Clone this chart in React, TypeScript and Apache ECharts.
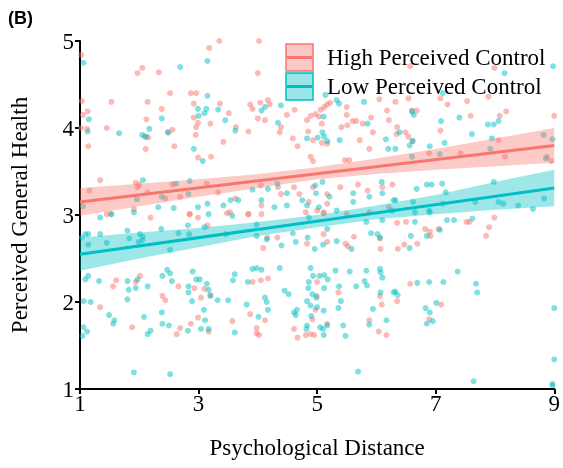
import React, { useEffect, useRef } from "react";
import * as echarts from "echarts";

// ---- Data ----
const xTicks = [1, 3, 5, 7, 9];
const yTicks = [1, 2, 3, 4, 5];
const seriesNames = ["High Perceived Control", "Low Perceived Control"];

// High perceived control: jittered observations [psychological distance, perceived health]
const highPoints: [number, number][] = [
  [1.02,4.84],[1.97,4.63],[2.05,4.69],[2.33,4.64],[3.18,4.92],[3.35,5.0],[1.53,4.30],[2.14,4.30],[2.52,4.40],[2.87,4.40],
  [2.96,4.40],[2.92,4.28],[2.38,4.22],[3.36,4.28],[1.03,4.31],[1.13,4.19],[1.05,4.15],[1.02,4.0],[1.12,3.99],[1.14,3.79],
  [1.45,4.0],[2.12,4.10],[2.10,3.90],[2.15,3.89],[2.11,3.76],[2.56,3.98],[2.48,3.95],[2.59,3.79],[2.92,4.12],[2.99,4.06],
  [2.96,4.01],[2.95,3.92],[2.99,3.66],[3.20,4.05],[3.21,3.67],[3.42,3.84],[3.51,4.17],
  [1.34,3.40],[1.16,3.28],[1.94,3.37],[1.97,3.32],[2.0,3.35],[2.14,3.26],[2.56,3.35],[2.69,3.21],[3.14,3.36],[3.33,3.26],
  [2.44,3.19],[1.45,3.01],[1.52,3.01],[1.91,3.07],[2.85,3.01],[3.53,3.03],
  [4.02,5.0],[4.0,4.63],[3.87,4.27],[3.91,4.22],[4.04,4.29],[4.17,4.32],[4.20,4.27],[3.63,4.01],[3.84,3.96],[4.0,4.11],
  [4.12,4.09],[4.39,4.01],[4.37,3.95],[4.49,4.15],[4.62,4.21],[4.83,4.09],[4.89,4.14],[4.97,4.16],[5.03,4.13],[5.06,4.21],
  [5.12,4.24],[5.17,4.27],[5.22,4.29],[5.08,4.05],[4.85,3.96],[5.50,4.15],[5.60,4.08],[5.66,4.08],[5.41,4.01],[5.51,4.03],
  [4.59,3.88],[4.67,3.79],[4.93,3.86],[5.08,3.83],[5.17,3.82],[4.89,3.67],[4.93,3.62],[5.47,3.63],[5.54,3.63],[5.72,3.86],
  [5.88,3.76],[5.94,3.95],[6.05,4.33],[6.18,4.20],[6.21,4.09],[5.91,4.12],[5.77,4.05],[5.50,4.24],
  [4.05,3.34],[4.34,3.32],[4.39,3.24],[4.61,3.32],[4.70,3.24],[4.93,3.32],[5.17,3.24],[5.39,3.32],[5.69,3.35],[5.85,3.28],
  [6.10,3.32],[6.27,3.35],[3.62,3.19],[3.84,3.01],[4.06,3.11],[4.86,3.15],[5.0,3.05],[5.17,3.13],[5.11,3.02],[5.88,3.03],
  [6.21,3.09],
  [6.57,4.71],[7.99,4.69],[6.32,4.30],[6.54,4.34],[6.68,4.20],[6.60,4.20],[7.20,4.27],[7.08,4.34],[7.53,4.31],[7.59,4.14],
  [7.89,4.36],[8.19,4.19],[8.08,4.14],[7.08,3.97],[6.35,4.01],[6.49,3.95],[6.34,3.93],[6.54,3.90],[6.61,3.85],[9.0,4.14],
  [8.06,3.86],[8.17,3.67],[8.88,3.67],[8.95,3.62],[7.42,3.71],[6.89,3.71],
  [2.19,2.97],[2.85,3.01],[2.99,2.97],[3.48,3.02],[3.15,2.88],[1.61,2.25],[1.56,2.18],[1.94,2.23],[2.01,2.30],[2.66,2.18],
  [2.93,2.16],[3.10,2.15],[3.20,2.08],[2.39,2.07],[2.44,2.02],[3.04,2.05],[1.34,1.94],[1.88,1.71],[2.63,1.63],[2.69,1.70],
  [2.87,1.75],[2.99,1.82],[3.17,1.66],[3.57,1.78],
  [3.84,3.01],[4.06,3.01],[4.81,3.03],[5.11,3.03],[5.50,3.01],[4.33,2.74],[4.83,2.67],[5.11,2.78],[5.17,2.69],[5.48,2.67],
  [5.52,2.64],[5.62,2.75],[6.06,2.73],[6.07,2.61],[4.09,2.62],[4.16,2.74],[3.91,2.23],[4.05,2.25],[4.17,2.27],[5.0,2.23],
  [4.99,2.07],[5.36,2.11],[4.97,1.91],[4.92,1.80],[5.17,1.75],[3.87,1.86],[4.12,1.79],[3.98,1.70],[3.98,1.64],[4.02,1.62],
  [4.61,1.69],[4.67,1.59],[4.81,1.62],[4.89,1.63],[4.95,1.62],[6.06,2.07],[6.09,1.97],[5.88,1.79],[6.04,1.66],[6.17,1.62],
  [6.35,2.91],[6.50,2.92],[6.36,2.61],[6.47,2.66],[6.69,2.67],[6.82,2.84],[6.90,2.81],[6.91,2.76],[7.05,2.84],[7.52,2.92],
  [7.57,2.92],[7.85,2.76],[7.90,2.86],[7.99,2.97],[6.57,2.21],[6.35,2.01],[6.89,1.80],[7.09,1.97],
];

// Low perceived control: jittered observations
const lowPoints: [number, number][] = [
  [1.06,4.75],[2.69,4.70],[3.15,4.77],[3.15,4.37],[2.99,4.22],[3.13,4.22],[3.00,4.14],[3.10,4.17],[3.33,4.21],[3.45,4.09],
  [1.15,4.10],[1.13,3.96],[1.66,3.94],[2.05,3.92],[2.11,3.90],[2.17,3.99],[2.38,4.11],[2.49,3.95],[2.92,3.76],[3.07,3.62],
  [2.06,3.40],[1.96,3.18],[2.38,3.21],[2.85,3.39],[2.83,3.24],[2.62,3.36],[1.05,3.10],[1.91,3.03],[2.32,3.09],[2.58,3.08],
  [2.99,3.09],[3.15,3.13],[3.17,3.01],[3.42,3.11],[3.54,3.17],
  [3.62,3.97],[4.06,4.20],[4.12,4.24],[4.34,4.06],[4.39,4.26],[4.83,3.88],[5.01,3.89],[5.11,4.13],[5.12,3.90],[5.17,3.85],
  [5.09,3.95],[5.33,4.32],[5.37,4.28],[5.38,3.86],[5.14,4.38],[5.79,4.30],[5.85,4.05],[6.16,3.87],[6.20,3.76],[3.91,3.29],
  [4.17,3.30],[4.33,3.36],[4.49,3.25],[4.97,3.34],[4.98,3.25],[5.09,3.38],[5.21,3.21],[5.61,3.25],[6.09,3.38],[6.10,3.25],
  [3.67,3.17],[4.06,3.17],[4.28,3.09],[4.49,3.11],[4.75,3.17],[4.83,3.11],[5.03,3.09],[5.33,3.05],[5.61,3.15],[5.88,3.21],
  [6.29,3.17],
  [8.98,4.71],[8.16,4.63],[7.12,4.40],[6.60,4.19],[6.63,4.15],[7.09,4.08],[7.40,4.12],[7.88,4.04],[7.98,4.04],[8.06,4.08],
  [6.32,3.76],[6.39,3.95],[6.56,3.80],[6.61,3.85],[6.90,3.79],[7.15,3.83],[7.61,3.93],[7.95,3.88],[8.82,3.92],[8.97,3.87],
  [6.60,3.67],[7.07,3.70],[7.92,3.76],[8.86,3.65],[6.68,3.30],[6.85,3.35],[6.93,3.35],[7.11,3.36],[7.17,3.26],[7.98,3.38],
  [6.32,3.17],[6.62,3.15],[6.89,3.05],[7.12,3.13],[7.67,3.15],[8.06,3.15],[8.14,3.13],[8.39,3.11],[8.64,3.07],[8.83,3.19],
  [1.34,2.97],[1.53,3.01],[1.09,2.78],[1.14,2.78],[1.34,2.78],[1.45,2.68],[1.80,2.82],[2.01,2.78],[2.06,2.75],[2.05,2.71],
  [2.37,2.84],[2.66,2.79],[2.82,2.88],[2.84,2.78],[3.10,2.86],[3.46,2.78],[1.14,2.66],[1.83,2.73],[1.99,2.69],[2.52,2.60],
  [1.03,2.74],
  [1.09,2.26],[1.14,2.30],[1.32,2.24],[1.80,2.24],[1.82,2.14],[1.94,2.16],[1.97,2.26],[2.14,2.18],[2.39,2.30],[2.47,2.37],
  [2.52,2.33],[2.55,2.24],[2.90,2.35],[2.96,2.26],[3.02,2.26],[2.83,2.18],[2.83,2.11],[2.89,2.01],[3.14,2.21],[3.17,2.14],
  [3.20,2.07],[3.32,2.02],[3.50,2.02],[1.06,2.01],[1.18,2.0],[1.80,2.03],[1.49,1.85],[1.58,1.79],[1.56,1.75],[2.08,1.83],
  [2.38,1.88],[2.39,1.75],[2.50,1.73],[2.19,1.67],[2.14,1.63],[2.82,1.67],[3.04,1.69],[3.09,1.91],[3.11,1.79],[3.17,1.69],
  [1.06,1.71],[1.12,1.66],[1.04,1.61],[1.91,1.19],[2.52,1.17],
  [3.57,2.99],[3.98,2.89],[3.98,2.76],[4.15,2.72],[4.40,2.65],[4.64,2.69],[4.84,2.74],[4.86,2.97],[5.17,2.84],[5.33,2.70],
  [5.10,2.66],[5.58,2.61],[5.91,2.79],[6.02,2.78],[6.06,2.74],[6.10,2.94],[5.83,2.92],[6.27,3.05],[4.96,2.61],[4.59,2.79],
  [3.61,2.32],[3.58,2.25],[3.91,2.38],[3.98,2.39],[4.06,2.37],[4.37,2.39],[3.83,2.23],[4.45,2.13],[4.52,2.09],[4.12,2.05],
  [4.15,2.0],[4.17,1.91],[3.81,1.97],[4.01,1.83],[3.61,1.65],[4.89,2.39],[4.93,2.30],[4.86,2.23],[4.85,2.16],[4.83,2.01],
  [4.89,1.96],[4.92,2.09],[5.04,2.30],[5.12,2.31],[5.18,2.26],[5.12,2.16],[4.99,2.05],[5.0,1.94],[5.11,1.90],[4.90,1.84],
  [4.83,1.73],[4.82,1.69],[5.05,1.71],[5.10,1.69],[5.11,1.62],[5.17,1.73],[5.31,2.36],[5.37,2.18],[5.40,2.01],[5.36,1.93],
  [5.44,1.73],[5.48,1.61],[5.55,2.35],[5.66,2.18],[5.83,2.36],[5.84,2.19],[5.80,2.24],[6.06,2.38],[6.07,2.34],[6.10,2.28],
  [6.07,2.11],[5.94,1.92],[5.88,1.74],[6.17,1.79],[6.29,2.11],[5.69,1.20],[4.61,1.88],[4.64,1.85],[4.66,1.91],
  [6.65,2.92],[6.58,2.76],[6.56,2.62],[6.85,2.76],[7.07,2.83],[7.19,2.94],[7.31,2.94],[7.62,2.96],[7.37,2.35],[6.69,2.22],
  [6.89,2.23],[7.13,2.23],[7.68,2.21],[7.70,2.11],[6.32,2.12],[6.36,2.08],[7.01,1.99],[6.83,1.93],[6.90,1.88],[6.95,1.78],
  [6.85,1.75],[9.0,1.93],[9.0,1.34],[7.64,1.09],[8.97,1.04],[6.65,3.03],[6.90,3.03],[8.97,1.06],
];

// Fitted regression lines (endpoints at x = 1 and x = 9)
const highFit: [number, number][] = [[1, 3.15], [9, 3.80]];
const lowFit: [number, number][] = [[1, 2.55], [9, 3.31]];

// Confidence bands read at x = 1..9
const bandX = [1, 2, 3, 4, 5, 6, 7, 8, 9];
const highLower = [2.99, 3.10, 3.21, 3.31, 3.41, 3.47, 3.52, 3.56, 3.60];
const highUpper = [3.31, 3.36, 3.41, 3.47, 3.55, 3.65, 3.76, 3.88, 4.00];
const lowLower = [2.36, 2.50, 2.63, 2.76, 2.86, 2.95, 3.01, 3.06, 3.10];
const lowUpper = [2.74, 2.80, 2.85, 2.92, 3.00, 3.11, 3.23, 3.38, 3.52];

const RED = "#F8766D";
const TEAL = "#00BFC4";
const SERIF = '"Liberation Serif", "Times New Roman", serif';
const FS = 23;

function bandSeries(name: string, lower: number[], upper: number[], fill: string) {
  return {
    type: "custom",
    name: name + " band",
    silent: true,
    z: 3,
    data: bandX.map((x, i) => [x, lower[i], upper[i]]),
    encode: { x: 0, y: [1, 2] },
    renderItem: (params: any, api: any) => {
      if (params.dataIndex !== 0) return null;
      const top = bandX.map((x, i) => api.coord([x, upper[i]]));
      const bottom = bandX.map((x, i) => api.coord([x, lower[i]])).reverse();
      return {
        type: "polygon",
        shape: { points: top.concat(bottom) },
        style: { fill },
      };
    },
  };
}

export default function App() {
  const ref = useRef<HTMLDivElement>(null);
  useEffect(() => {
    if (!ref.current) return;
    const chart = echarts.init(ref.current, null, { renderer: "svg" });
    const legendX = 286;
    const legendY = [44, 73];
    const legendColors = [RED, TEAL];
    const legendFills = ["rgba(248,118,109,0.4)", "rgba(0,191,196,0.4)"];
    const legendGraphics: any[] = [];
    seriesNames.forEach((nm, i) => {
      legendGraphics.push({
        type: "rect",
        shape: { x: legendX, y: legendY[i], width: 27, height: 27 },
        style: { fill: legendFills[i], stroke: legendColors[i], lineWidth: 1.5 },
      });
      legendGraphics.push({
        type: "line",
        shape: { x1: legendX + 1, y1: legendY[i] + 13.5, x2: legendX + 26, y2: legendY[i] + 13.5 },
        style: { stroke: legendColors[i], lineWidth: 3 },
      });
      legendGraphics.push({
        type: "text",
        x: 327,
        y: legendY[i] + 13.5,
        style: {
          text: nm,
          fontFamily: SERIF,
          fontSize: FS,
          fill: "#000",
          verticalAlign: "middle",
          align: "left",
        },
      });
    });

    chart.setOption({
      animation: false,
      title: {
        text: "(B)",
        left: 8,
        top: 9,
        padding: 0,
        textStyle: { fontFamily: '"Liberation Sans", Arial, sans-serif', fontWeight: "bold", fontSize: 18, color: "#000" },
      },
      grid: { left: 73, right: 6, top: 41, bottom: 79, containLabel: false },
      xAxis: {
        type: "value",
        min: xTicks[0],
        max: xTicks[xTicks.length - 1],
        interval: 2,
        name: "Psychological Distance",
        nameLocation: "middle",
        nameGap: 47,
        nameTextStyle: { fontFamily: SERIF, fontSize: FS, color: "#000" },
        axisLine: { show: true, lineStyle: { color: "#000", width: 2 } },
        axisTick: { show: true, length: 5, lineStyle: { color: "#000", width: 2 } },
        axisLabel: { fontFamily: SERIF, fontSize: FS, color: "#000", margin: 3 },
        splitLine: { show: false },
      },
      yAxis: {
        type: "value",
        min: yTicks[0],
        max: yTicks[yTicks.length - 1],
        interval: 1,
        name: "Perceived General Health",
        nameLocation: "middle",
        nameGap: 49,
        nameTextStyle: { fontFamily: SERIF, fontSize: FS, color: "#000" },
        axisLine: { show: true, lineStyle: { color: "#000", width: 2 } },
        axisTick: { show: true, length: 5, lineStyle: { color: "#000", width: 2 } },
        axisLabel: { fontFamily: SERIF, fontSize: FS, color: "#000", margin: 6 },
        splitLine: { show: false },
      },
      graphic: legendGraphics,
      series: [
        {
          type: "scatter",
          name: seriesNames[0],
          data: highPoints,
          symbolSize: 6,
          itemStyle: { color: RED, opacity: 0.5 },
          z: 2,
        },
        {
          type: "scatter",
          name: seriesNames[1],
          data: lowPoints,
          symbolSize: 6,
          itemStyle: { color: TEAL, opacity: 0.5 },
          z: 2,
        },
        bandSeries(seriesNames[0], highLower, highUpper, "rgba(248,118,109,0.38)"),
        bandSeries(seriesNames[1], lowLower, lowUpper, "rgba(0,191,196,0.38)"),
        {
          type: "line",
          name: seriesNames[0] + " fit",
          data: highFit,
          showSymbol: false,
          symbol: "none",
          lineStyle: { color: RED, width: 3 },
          z: 4,
        },
        {
          type: "line",
          name: seriesNames[1] + " fit",
          data: lowFit,
          showSymbol: false,
          symbol: "none",
          lineStyle: { color: TEAL, width: 3 },
          z: 4,
        },
      ],
    });
    return () => chart.dispose();
  }, []);
  return <div ref={ref} style={{ position: "fixed", left: 0, top: 0, width: 563, height: 468 }} />;
}
